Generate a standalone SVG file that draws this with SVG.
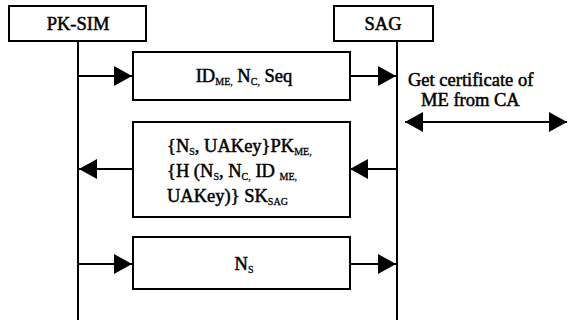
<svg xmlns="http://www.w3.org/2000/svg" width="568" height="320" viewBox="0 0 568 320">
<style>
.box{fill:#fff;stroke:#000;stroke-width:2}
.ln{stroke:#000;stroke-width:2;fill:none}
.t{font-family:Liberation Serif,DejaVu Serif,serif;font-size:18.5px;font-weight:normal;fill:#000;stroke:#000;stroke-width:0.5}
.s{font-size:10px;stroke-width:0.3}
</style>
<defs>
<marker id="ah" markerUnits="userSpaceOnUse" markerWidth="18" markerHeight="20" refX="18" refY="10" orient="auto">
<path d="M0,0 L18,10 L0,20 z" fill="#000"/>
</marker>
<marker id="ahs" markerUnits="userSpaceOnUse" markerWidth="18" markerHeight="20" refX="0" refY="10" orient="auto">
<path d="M18,0 L0,10 L18,20 z" fill="#000"/>
</marker>
</defs>
<g id="connectors">
<line class="ln" x1="78" y1="41" x2="78" y2="320"/>
<line class="ln" x1="397" y1="41" x2="397" y2="320"/>
<line class="ln" x1="78" y1="76" x2="132" y2="76" marker-end="url(#ah)"/>
<line class="ln" x1="350" y1="76" x2="396" y2="76" marker-end="url(#ah)"/>
<line class="ln" x1="405" y1="122" x2="567" y2="122" marker-start="url(#ahs)" marker-end="url(#ah)"/>
<line class="ln" x1="133" y1="169" x2="79" y2="169" marker-end="url(#ah)"/>
<line class="ln" x1="397" y1="169" x2="350" y2="169" marker-end="url(#ah)"/>
<line class="ln" x1="78" y1="264" x2="132" y2="264" marker-end="url(#ah)"/>
<line class="ln" x1="350" y1="264" x2="396" y2="264" marker-end="url(#ah)"/>
</g>
<g id="pksim">
<rect class="box" x="9" y="6" width="137" height="35"/>
<text class="t" x="78" y="30" text-anchor="middle">PK-SIM</text>
</g>
<g id="sag">
<rect class="box" x="334" y="6" width="99" height="35"/>
<text class="t" x="383" y="30" text-anchor="middle">SAG</text>
</g>
<g id="msg1">
<rect class="box" x="133" y="52" width="217" height="48"/>
<text class="t" x="244" y="82" text-anchor="middle">ID<tspan class="s" dy="3">ME,</tspan><tspan dy="-3"> N</tspan><tspan class="s" dy="3">C,</tspan><tspan dy="-3"> Seq</tspan></text>
</g>
<g id="cert">
<text class="t" x="408" y="86">Get certificate of</text>
<text class="t" x="421" y="106">ME from CA</text>
</g>
<g id="msg2">
<rect class="box" x="133" y="122" width="217" height="95"/>
<text class="t" x="167" y="152">{N<tspan class="s" dy="3">S</tspan><tspan dy="-3">, UAKey}PK</tspan><tspan class="s" dy="3">ME,</tspan></text>
<text class="t" x="167" y="177">{H (N<tspan class="s" dy="3">S</tspan><tspan dy="-3">, N</tspan><tspan class="s" dy="3">C,</tspan><tspan dy="-3"> ID </tspan><tspan class="s" dy="3">ME,</tspan></text>
<text class="t" x="167" y="202">UAKey)} SK<tspan class="s" dy="3">SAG</tspan></text>
</g>
<g id="msg3">
<rect class="box" x="133" y="237" width="217" height="52"/>
<text class="t" x="244" y="270" text-anchor="middle">N<tspan class="s" dy="3">S</tspan></text>
</g>
</svg>
